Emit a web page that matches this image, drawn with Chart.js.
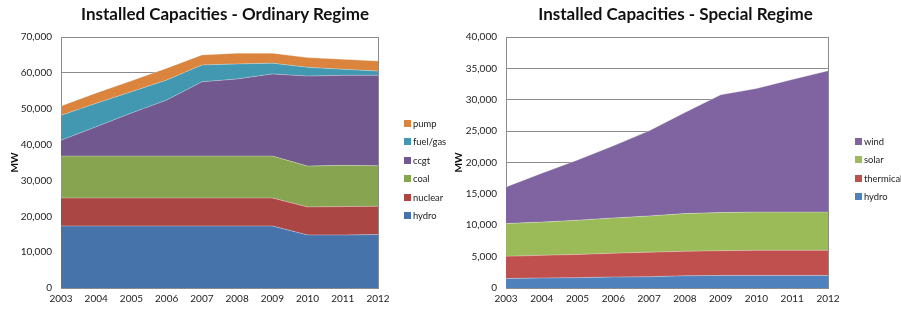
<!DOCTYPE html>
<html>
<head>
<meta charset="utf-8">
<script src="https://cdn.jsdelivr.net/npm/chart.js@4/dist/chart.umd.min.js"></script>
<style>
  html, body { margin: 0; padding: 0; background: #fff; }
  #wrap { position: relative; width: 901px; height: 310px; font-family: Lato, "Liberation Sans", sans-serif; }
  .box { position: absolute; top: 0; height: 310px; }
  #boxOrd { left: 0; width: 450px; }
  #boxSpe { left: 450px; width: 451px; }
  .title { position: absolute; top: 4px; font-size: 17px; font-weight: bold; color: #111; text-align: center; line-height: 20px; white-space: nowrap; }
  .legend { position: absolute; font-size: 9.4px; color: #222; }
  .legend div { position: absolute; left: 0; white-space: nowrap; line-height: 12px; }
  .legend span { display: inline-block; width: 7px; height: 7px; margin-right: 2px; vertical-align: 0px; }
</style>
</head>
<body>
<div id="wrap">
  <div class="box" id="boxOrd"><canvas id="chartOrd" width="450" height="310"></canvas></div>
  <div class="box" id="boxSpe"><canvas id="chartSpe" width="451" height="310"></canvas></div>
  <div class="title" style="left:0; width:450px;">Installed Capacities - Ordinary Regime</div>
  <div class="title" style="left:450px; width:451px;">Installed Capacities - Special Regime</div>
  <div class="legend" id="legOrd" style="left:404px; top:0;"></div>
  <div class="legend" id="legSpe" style="left:855px; top:0;"></div>
</div>
<script>
// years on the x axis (shared by both charts)
const years = ['2003', '2004', '2005', '2006', '2007', '2008', '2009', '2010', '2011', '2012'];

// Ordinary regime, MW per technology (stacked)
const ordHydro   = [17300, 17300, 17300, 17300, 17300, 17300, 17300, 14800, 14800, 14900];
const ordNuclear = [7800, 7800, 7800, 7800, 7800, 7800, 7800, 7800, 7900, 7900];
const ordCoal    = [11700, 11700, 11700, 11700, 11700, 11700, 11700, 11400, 11500, 11300];
const ordCcgt    = [4400, 8200, 12000, 15600, 20700, 21500, 22900, 25100, 25100, 25200];
const ordFuelGas = [6950, 6500, 5950, 5600, 4700, 4200, 3000, 2450, 1700, 1200];
const ordPump    = [2600, 2900, 3050, 3300, 2800, 3000, 2800, 2700, 2800, 2800];

// Special regime, MW per technology (stacked)
const speHydro     = [1500, 1600, 1650, 1750, 1800, 1950, 2000, 2000, 2000, 2000];
const speThermical = [3550, 3600, 3700, 3800, 3900, 3900, 3950, 4000, 4000, 4000];
const speSolar     = [5220, 5300, 5450, 5610, 5780, 6010, 6070, 6100, 6100, 6100];
const speWind      = [5830, 7800, 9600, 11490, 13560, 16110, 18760, 19700, 21140, 22510];

const FONT = 'Lato, "Liberation Sans", sans-serif';
const TEXT = '#222';
const GRID = '#8c8c8c';

function areaDataset(label, data, color, idx) {
  return {
    label,
    data,
    backgroundColor: color,
    borderColor: 'rgba(255,255,255,0.3)',
    borderWidth: 1,
    pointRadius: 0,
    tension: 0,
    fill: idx === 0 ? 'origin' : '-1',
  };
}

function buildChart(canvasId, datasets, yMax, yStep, yWidth, rightPad, titlePadTop) {
  return new Chart(document.getElementById(canvasId), {
    type: 'line',
    data: { labels: years, datasets: datasets.map((d, i) => areaDataset(d[0], d[1], d[2], i)) },
    options: {
      responsive: false,
      animation: false,
      layout: { padding: { left: 0, right: rightPad, top: 37, bottom: 0 } },
      plugins: {
        legend: { display: false },
        tooltip: { enabled: false },
        title: { display: false },
      },
      scales: {
        x: {
          offset: false,
          grid: {
            drawTicks: false,
            color: (ctx) => (ctx.index === years.length - 1) ? GRID : 'rgba(0,0,0,0)',
          },
          border: { display: true, color: GRID },
          ticks: { color: TEXT, font: { family: FONT, size: 10 }, padding: 5, maxRotation: 0, autoSkip: false },
          afterFit: (scale) => { scale.height = 22; },
        },
        y: {
          stacked: true,
          min: 0,
          max: yMax,
          grid: { drawTicks: false, color: GRID },
          border: { display: true, color: GRID },
          ticks: {
            stepSize: yStep,
            color: TEXT,
            font: { family: FONT, size: 10 },
            padding: 9,
            callback: (v) => v.toLocaleString('en-US'),
          },
          title: {
            display: true,
            text: 'MW',
            color: '#111',
            font: { family: FONT, size: 10, weight: 'bold' },
            padding: { top: titlePadTop, bottom: 0 },
          },
          afterFit: (scale) => { scale.width = yWidth; },
        },
      },
    },
  });
}

const ordSeries = [
  ['hydro', ordHydro, '#4673AA'],
  ['nuclear', ordNuclear, '#AA4644'],
  ['coal', ordCoal, '#87A550'],
  ['ccgt', ordCcgt, '#71588E'],
  ['fuel/gas', ordFuelGas, '#4198B0'],
  ['pump', ordPump, '#DB843D'],
];
const speSeries = [
  ['hydro', speHydro, '#4F81BD'],
  ['thermical', speThermical, '#C0504D'],
  ['solar', speSolar, '#9BBB59'],
  ['wind', speWind, '#8064A2'],
];

buildChart('chartOrd', ordSeries, 70000, 10000, 61, 72, 9);
buildChart('chartSpe', speSeries, 40000, 5000, 56, 73, 3);

// html legends, top entry first (reverse of stack order)
function buildLegend(id, series, firstY) {
  const el = document.getElementById(id);
  [...series].reverse().forEach((s, i) => {
    const row = document.createElement('div');
    row.style.top = (firstY + i * 18.4 - 6) + 'px';
    row.innerHTML = `<span style="background:${s[2]}"></span>${s[0]}`;
    el.appendChild(row);
  });
}
buildLegend('legOrd', ordSeries, 124);
buildLegend('legSpe', speSeries, 142);
</script>
</body>
</html>
